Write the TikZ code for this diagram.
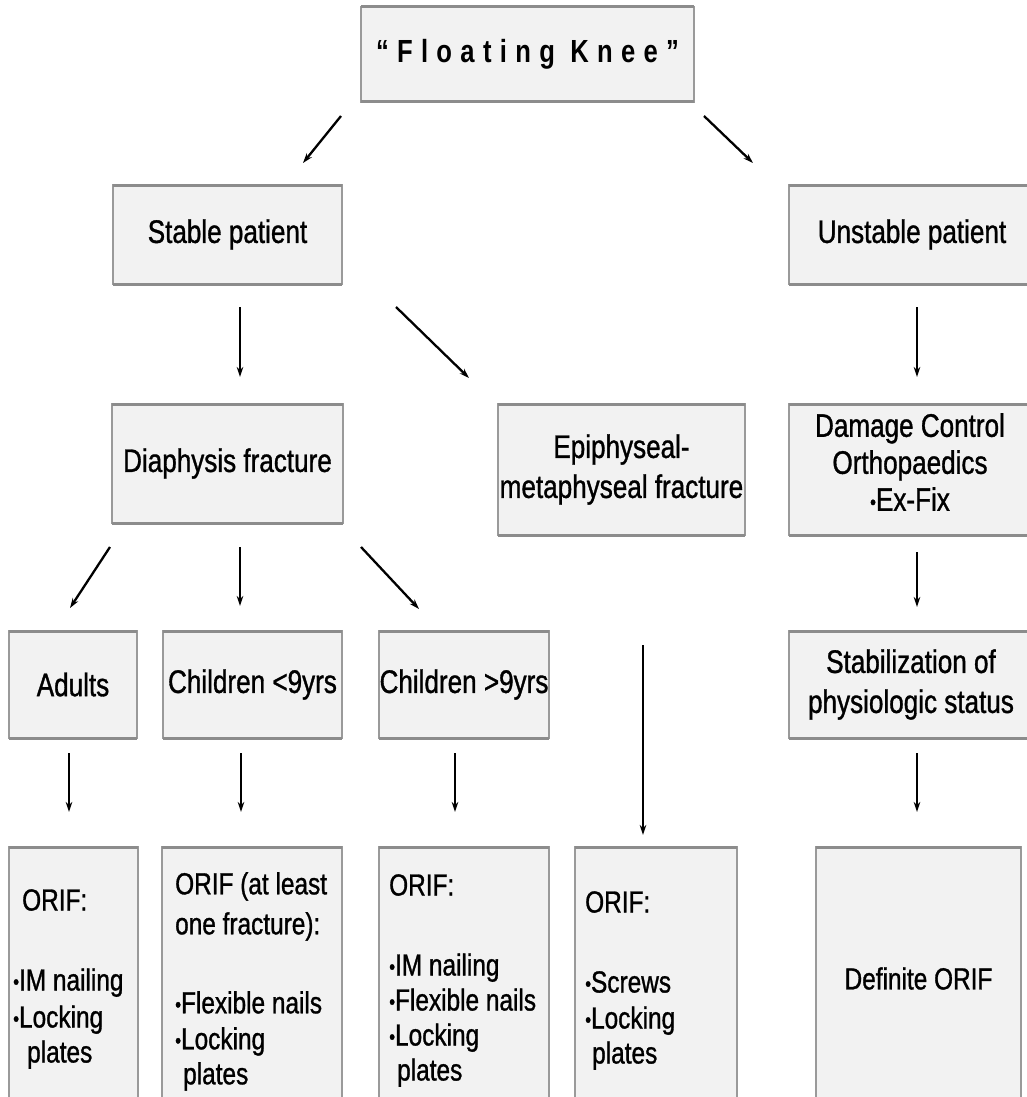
\documentclass[tikz,border=0pt]{standalone}
\usepackage{fontspec}
\setmainfont{Liberation Sans}[FakeStretch=0.8,FakeBold=1]
\newfontfamily\titlefont{Liberation Sans}[FakeStretch=0.8,LetterSpace=26]
\usetikzlibrary{arrows.meta,calc}
\definecolor{boxfill}{HTML}{F2F2F2}
\definecolor{boxline}{HTML}{9A9A9A}
\definecolor{boxedge}{HTML}{8C8C8C}
\newcommand{\bul}{\raisebox{1.5pt}{\fontsize{21}{21}\selectfont •}}
\tikzset{
  box/.style={draw=boxline, line width=1.3pt, fill=boxfill, inner sep=0pt, outer sep=0pt,
    align=center, font=\fontsize{32.6}{37}\selectfont},
  midtxt/.style={inner sep=0pt, align=center, font=\fontsize{32.6}{37}\selectfont},
  bottxt/.style={inner sep=0pt, anchor=north west, align=left, font=\fontsize{30.5}{35}\selectfont},
  arr/.style={line width=1.6pt, -{Stealth[length=10pt,width=6.5pt]}},
  darr/.style={arr, line width=2.3pt},
  edgeline/.style={draw=boxedge, line width=3pt}
}
\begin{document}
\begin{tikzpicture}[x=1pt,y=-1pt]
\useasboundingbox (0,0) rectangle (1027,1097);
% row 0
\node[box, minimum width=333pt, minimum height=95pt] (fk) at (527.5,54.5)
  {\fontsize{32}{37}\titlefont\bfseries “Floating Knee”};
% row 1
\node[box, minimum width=229pt, minimum height=99pt] (sp) at (227.5,234.5) {Stable patient};
\node[box, minimum width=246pt, minimum height=99pt] (up) at (912,234.5) {Unstable patient};
% row 2
\node[box, minimum width=231pt, minimum height=119pt] (df) at (227.5,463.5) {Diaphysis fracture};
\node[box, minimum width=247pt, minimum height=131pt, font=\fontsize{32.6}{40}\selectfont] (ep) at (621.5,469.5)
  {Epiphyseal-\\metaphyseal fracture};
\node[box, minimum width=244pt, minimum height=131pt] (dc) at (911,469.5) {};
\node[midtxt] (dctext) at (910,462) {Damage Control\\Orthopaedics\\\bul Ex-Fix};
% row 3
\node[box, minimum width=128pt, minimum height=107pt] (ad) at (73,684.5) {Adults};
\node[box, minimum width=179pt, minimum height=107pt] (c9) at (252.5,684.5) {Children <9yrs};
\node[box, minimum width=170pt, minimum height=107pt] (c9p) at (464,684.5) {Children >9yrs};
\node[box, minimum width=244pt, minimum height=107pt, font=\fontsize{32.6}{40}\selectfont] (st) at (911,684.5)
  {Stabilization of\\physiologic status};
% row 4
\node[box, minimum width=129pt, minimum height=263pt] (b1) at (73.5,978.5) {};
\node[box, minimum width=180pt, minimum height=263pt] (b2) at (252,978.5) {};
\node[box, minimum width=170pt, minimum height=263pt] (b3) at (464,978.5) {};
\node[box, minimum width=162pt, minimum height=263pt] (b4) at (656,978.5) {};
\node[box, minimum width=205pt, minimum height=263pt, font=\fontsize{30.5}{35}\selectfont] (b5) at (918.5,978.5) {Definite ORIF};
% shaded top/bottom edges
\foreach \n in {fk,sp,up,df,ep,dc,ad,c9,c9p,st,b1,b2,b3,b4,b5} {
  \draw[edgeline] (\n.north west) -- (\n.north east);
  \draw[edgeline] (\n.south west) -- (\n.south east);
}
% texts of bottom boxes
\node[bottxt] (t1) at (13,889)
  {\hspace*{9pt}ORIF:\\[45pt]\bul IM nailing\\[2pt]\bul Locking\\[0pt]\hspace*{14pt}plates};
\node[bottxt] (t2) at (175,872)
  {ORIF (at least\\[5pt]one fracture):\\[44pt]\bul Flexible nails\\[1pt]\bul Locking\\[0pt]\hspace*{8pt}plates};
\node[bottxt] (t3) at (389,874)
  {ORIF:\\[45pt]\bul IM nailing\\[0pt]\bul Flexible nails\\[0pt]\bul Locking\\[0pt]\hspace*{8pt}plates};
\node[bottxt] (t4) at (585,891)
  {ORIF:\\[45pt]\bul Screws\\[1pt]\bul Locking\\[0pt]\hspace*{7pt}plates};
% arrow end points
\coordinate (a1s) at (341,116);  \coordinate (a1e) at (303,163);
\coordinate (a2s) at (704,116);  \coordinate (a2e) at (753,163);
\coordinate (a3s) at (240,307);  \coordinate (a3e) at (240,377);
\coordinate (a4s) at (396,307);  \coordinate (a4e) at (469,378);
\coordinate (a5s) at (917,307);  \coordinate (a5e) at (917,377);
\coordinate (a6s) at (110,547);  \coordinate (a6e) at (70,608);
\coordinate (a7s) at (240,547);  \coordinate (a7e) at (240,606);
\coordinate (a8s) at (361,547);  \coordinate (a8e) at (419,609);
\coordinate (a9s) at (917,552);  \coordinate (a9e) at (917,607);
\coordinate (a10s) at (69,753);  \coordinate (a10e) at (69,812);
\coordinate (a11s) at (241,753); \coordinate (a11e) at (241,812);
\coordinate (a12s) at (455,753); \coordinate (a12e) at (455,812);
\coordinate (a13s) at (643,645); \coordinate (a13e) at (643,835);
\coordinate (a14s) at (917,753); \coordinate (a14e) at (917,812);
\draw[darr] (a1s) -- (a1e);
\draw[darr] (a2s) -- (a2e);
\draw[arr] (a3s) -- (a3e);
\draw[darr] (a4s) -- (a4e);
\draw[arr] (a5s) -- (a5e);
\draw[darr] (a6s) -- (a6e);
\draw[arr] (a7s) -- (a7e);
\draw[darr] (a8s) -- (a8e);
\draw[arr] (a9s) -- (a9e);
\draw[arr] (a10s) -- (a10e);
\draw[arr] (a11s) -- (a11e);
\draw[arr] (a12s) -- (a12e);
\draw[arr] (a13s) -- (a13e);
\draw[arr] (a14s) -- (a14e);
\end{tikzpicture}
\end{document}
